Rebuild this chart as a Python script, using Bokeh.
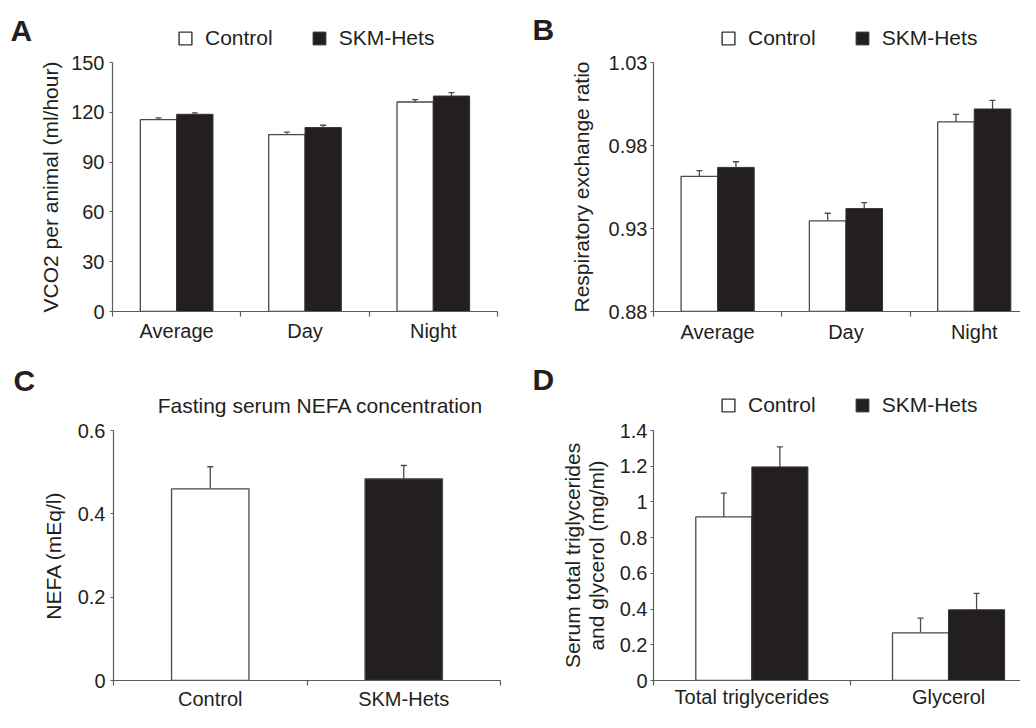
import numpy as np
from bokeh.plotting import figure
from bokeh.models import (Range1d, FixedTicker, CustomJSTickFormatter, ColumnDataSource,
                          Whisker, TeeHead, Legend, LegendItem, Label)
from bokeh.layouts import column, row
from bokeh.transform import dodge
from bokeh.embed import file_html
from bokeh.resources import INLINE

# ---------------- data ----------------
a_cats = ["Average", "Day", "Night"]
a_control = [115.6, 106.6, 126.2]
a_control_err = [1.1, 1.4, 1.4]
a_skm = [118.8, 110.8, 129.8]
a_skm_err = [0.9, 1.4, 2.0]
a_yticks = [0, 30, 60, 90, 120, 150]

b_cats = ["Average", "Day", "Night"]
b_control = [0.9614, 0.9346, 0.9942]
b_control_err = [0.0035, 0.0046, 0.0046]
b_skm = [0.9668, 0.9420, 1.0020]
b_skm_err = [0.0034, 0.0036, 0.0052]
b_yticks = [0.88, 0.93, 0.98, 1.03]

c_cats = ["Control", "SKM-Hets"]
c_values = [0.460, 0.484]
c_err = [0.053, 0.032]
c_yticks = [0, 0.2, 0.4, 0.6]

d_cats = ["Total triglycerides", "Glycerol"]
d_control = [0.916, 0.267]
d_control_err = [0.133, 0.082]
d_skm = [1.196, 0.396]
d_skm_err = [0.112, 0.092]
d_yticks = [0, 0.2, 0.4, 0.6, 0.8, 1.0, 1.2, 1.4]

series_names = ["Control", "SKM-Hets"]

# ---------------- style ----------------
FONT = "Liberation Sans"
BLACK = "#231f20"
WHITE = "#ffffff"
EDGE = "#4a4a4a"
AXIS = "#5a5a5a"
TEXT = "#231f20"
c_colors = [WHITE, BLACK]

fmt_num = CustomJSTickFormatter(code="return String(Math.round(tick*1000)/1000)")


def base_fig(w, h, left, right, top, bottom, x_end, y0, y1, yticks, cats,
             ylabel, ylabel_standoff, ytick_standoff, xtick_standoff, lh=1.2):
    p = figure(width=w, height=h, output_backend="svg", toolbar_location=None,
               x_range=Range1d(0, x_end), y_range=Range1d(y0, y1),
               min_border_left=left, min_border_right=right,
               min_border_top=top, min_border_bottom=bottom)
    p.outline_line_color = None
    p.xgrid.visible = False
    p.ygrid.visible = False
    p.background_fill_color = None
    p.border_fill_color = None

    pos = [i + 0.5 for i in range(len(cats))]
    xa = p.xaxis[0]
    xa.ticker = FixedTicker(ticks=pos, minor_ticks=list(range(len(cats) + 1)))
    xa.formatter = CustomJSTickFormatter(args=dict(cats=cats),
                                         code="return cats[Math.floor(tick)]")
    xa.major_tick_line_color = None
    xa.major_tick_out = 0
    xa.major_tick_in = 0
    xa.minor_tick_out = 5
    xa.minor_tick_in = 0
    xa.minor_tick_line_color = AXIS
    xa.minor_tick_line_width = 1.2
    xa.axis_line_color = AXIS
    xa.axis_line_width = 1.2
    xa.major_label_text_font = FONT
    xa.major_label_text_font_size = "20px"
    xa.major_label_text_color = TEXT
    xa.major_label_standoff = xtick_standoff

    ya = p.yaxis[0]
    ya.ticker = FixedTicker(ticks=yticks)
    ya.formatter = fmt_num
    ya.major_tick_out = 3
    ya.major_tick_in = 0
    ya.minor_tick_out = 0
    ya.minor_tick_in = 0
    ya.major_tick_line_color = AXIS
    ya.major_tick_line_width = 1.2
    ya.axis_line_color = AXIS
    ya.axis_line_width = 1.2
    ya.major_label_text_font = FONT
    ya.major_label_text_font_size = "20px"
    ya.major_label_text_color = TEXT
    ya.major_label_standoff = ytick_standoff
    ya.axis_label = ylabel
    ya.axis_label_text_font = FONT
    ya.axis_label_text_font_size = "21px"
    ya.axis_label_text_font_style = "normal"
    ya.axis_label_text_color = TEXT
    ya.axis_label_standoff = ylabel_standoff
    ya.axis_label_text_line_height = lh
    return p


def grouped(p, cats, control, control_err, skm, skm_err, bw):
    pos = [i + 0.5 for i in range(len(cats))]
    src_c = ColumnDataSource(dict(pos=pos, val=control,
                                  up=[v + e for v, e in zip(control, control_err)]))
    src_s = ColumnDataSource(dict(pos=pos, val=skm,
                                  up=[v + e for v, e in zip(skm, skm_err)]))
    p.vbar(x=dodge("pos", -bw / 2, range=p.x_range), top="val", width=bw,
           source=src_c, fill_color=WHITE, line_color=EDGE, line_width=1.3)
    p.vbar(x=dodge("pos", bw / 2, range=p.x_range), top="val", width=bw,
           source=src_s, fill_color=BLACK, line_color="#333333", line_width=1.0)
    for src, off in ((src_c, -bw / 2), (src_s, bw / 2)):
        wk = Whisker(source=src, base=dodge("pos", off, range=p.x_range),
                     lower="val", upper="up", dimension="height",
                     line_color=EDGE, line_width=1.3, lower_head=None,
                     upper_head=TeeHead(size=6, line_color=EDGE, line_width=1.3))
        p.add_layout(wk)


def header_fig(w, h):
    hf = figure(width=w, height=h, output_backend="svg", toolbar_location=None,
                x_range=Range1d(0, w), y_range=Range1d(h, 0),
                x_axis_location=None, y_axis_location=None, min_border=0)
    hf.outline_line_color = None
    hf.xgrid.visible = False
    hf.ygrid.visible = False
    hf.background_fill_color = None
    hf.border_fill_color = None
    return hf


def add_legend(hf, x, vy):
    # legend swatches only: the sources hold a single NaN row, so nothing is drawn
    nan_c = ColumnDataSource(dict(x=np.array([np.nan]), top=np.array([np.nan])))
    nan_s = ColumnDataSource(dict(x=np.array([np.nan]), top=np.array([np.nan])))
    rc = hf.vbar(x="x", top="top", width=1, source=nan_c, fill_color=WHITE,
                 line_color="#333333", line_width=1.4)
    rs = hf.vbar(x="x", top="top", width=1, source=nan_s, fill_color=BLACK,
                 line_color="#333333", line_width=1.0)
    lg = Legend(items=[LegendItem(label=series_names[0], renderers=[rc]),
                       LegendItem(label=series_names[1], renderers=[rs])],
                orientation="horizontal", location=(x, vy), padding=0, margin=0,
                spacing=38, glyph_width=16, glyph_height=16, label_standoff=12,
                label_text_font=FONT, label_text_font_size="21px",
                label_text_color=TEXT, border_line_color=None,
                background_fill_alpha=0, label_height=24)
    hf.add_layout(lg)


def letter(hf, text, x, y):
    hf.add_layout(Label(text=text, x=x, y=y, text_font=FONT, text_font_style="bold",
                        text_font_size="30px", text_color=TEXT,
                        text_baseline="middle", text_align="left"))


# ---------------- header (top row) ----------------
hTop = header_fig(1020, 50)
letter(hTop, "A", 10, 29.6)
letter(hTop, "B", 532, 28.9)
add_legend(hTop, 177, 0)
add_legend(hTop, 720, 0)

# ---------------- panel A ----------------
pA = base_fig(520, 296, 112, 23, 12, 34, len(a_cats), 0, 150, a_yticks, a_cats,
              "VCO2 per animal (ml/hour)", 6, 5, 3)
grouped(pA, a_cats, a_control, a_control_err, a_skm, a_skm_err, 0.283)

# ---------------- panel B ----------------
pB = base_fig(500, 296, 133, 0, 11, 35, 367 / 128.3, 0.88, 1.03, b_yticks, b_cats,
              "Respiratory exchange ratio", 13, 3, 4)
grouped(pB, b_cats, b_control, b_control_err, b_skm, b_skm_err, 0.285)

# ---------------- header (bottom row) ----------------
hBot = header_fig(1020, 71)
letter(hBot, "C", 13, 33.6)
letter(hBot, "D", 532, 33.3)
hBot.add_layout(Label(text="Fasting serum NEFA concentration", x=320, y=59,
                      text_font=FONT, text_font_size="21px", text_color=TEXT,
                      text_align="center", text_baseline="middle"))
add_legend(hBot, 720, 0)

# ---------------- panel C ----------------
pC = base_fig(520, 295, 113, 20, 12, 32, len(c_cats), 0, 0.6, c_yticks, c_cats,
              "NEFA (mEq/l)", 10, 5, 2)
c_pos = [i + 0.5 for i in range(len(c_cats))]
src_cc = ColumnDataSource(dict(pos=c_pos, val=c_values,
                               up=[v + e for v, e in zip(c_values, c_err)],
                               color=c_colors))
pC.vbar(x="pos", top="val", width=0.4, source=src_cc, fill_color="color",
        line_color=EDGE, line_width=1.3)
pC.add_layout(Whisker(source=src_cc, base="pos", lower="val", upper="up",
                      dimension="height", line_color=EDGE, line_width=1.3,
                      lower_head=None,
                      upper_head=TeeHead(size=6, line_color=EDGE, line_width=1.3)))

# ---------------- panel D ----------------
pD = base_fig(500, 295, 133, 0, 13, 32, 367 / 196.7, 0, 1.4, d_yticks, d_cats,
              "Serum total triglycerides\nand glycerol (mg/ml)", 9, 3, 0, lh=1.05)
grouped(pD, d_cats, d_control, d_control_err, d_skm, d_skm_err, 0.285)

layout = column(hTop, row(pA, pB), hBot, row(pC, pD))
open("out.html", "w").write(file_html(layout, INLINE))
